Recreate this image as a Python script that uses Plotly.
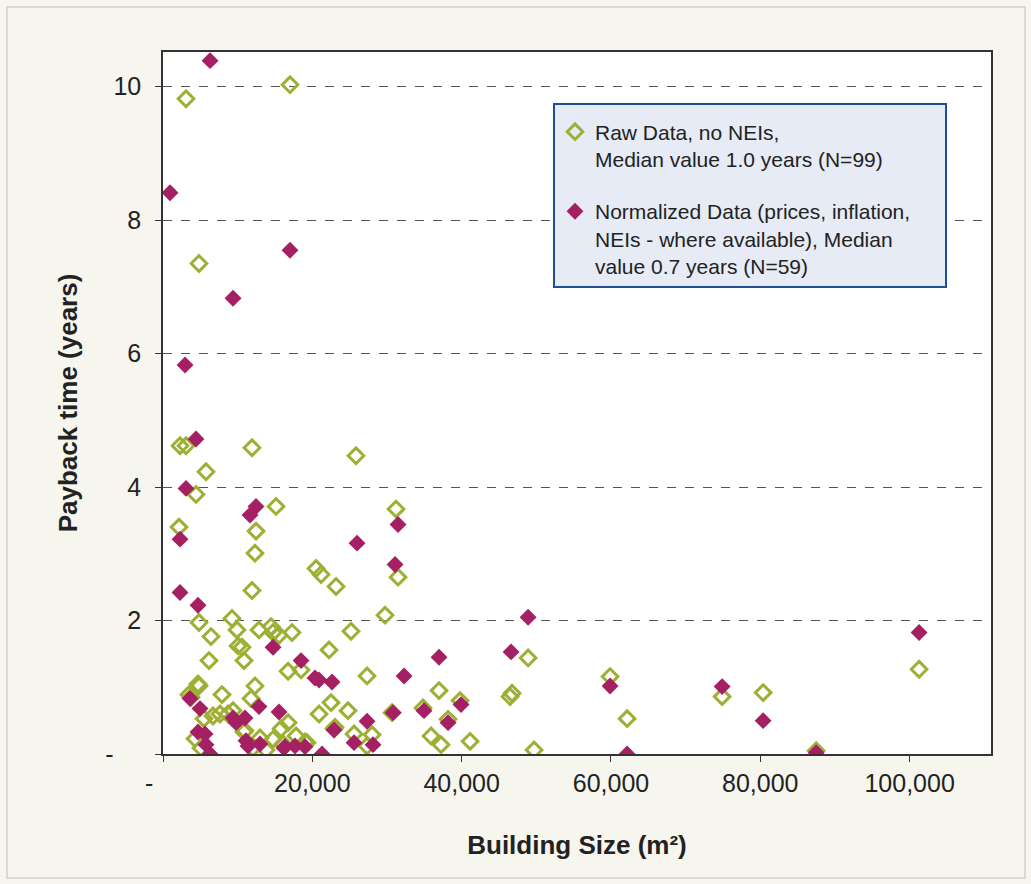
import plotly.graph_objects as go

# Raw data, no NEIs (building size m2, payback years)
raw_size = [3080, 17010, 4820, 2280, 3080, 5760, 4420, 11920, 25850, 2140,
            15140, 12460, 31210, 12320, 20500, 21170, 23180, 11920, 31480, 29740,
            4820, 6430, 6160, 9240, 9910, 10050, 10580, 10850, 12860, 14470,
            14740, 15540, 17280, 16750, 18490, 22240, 25180, 27330, 36970, 46750,
            46480, 48900, 49700, 4690, 4820, 3480, 7900, 9380, 12320, 11790,
            5490, 6700, 7640, 4290, 5090, 10850, 12060, 12990, 13800, 14740,
            15810, 16750, 17820, 19020, 20900, 22500, 23040, 24780, 25590, 28000,
            27330, 30680, 34830, 35900, 37240, 38180, 39790, 41130, 59880, 62160,
            74890, 80380, 101270, 87480, 16080, 19290, 10980, 3750, 22910, 8700]
raw_payback = [9.82, 10.03, 7.35, 4.62, 4.62, 4.23, 3.89, 4.59, 4.47, 3.40,
               3.71, 3.34, 3.67, 3.01, 2.78, 2.69, 2.51, 2.45, 2.65, 2.08,
               1.97, 1.76, 1.40, 2.03, 1.86, 1.62, 1.60, 1.40, 1.86, 1.91,
               1.82, 1.78, 1.82, 1.24, 1.26, 1.56, 1.84, 1.17, 0.95, 0.91,
               0.86, 1.44, 0.06, 1.05, 1.02, 0.89, 0.89, 0.65, 1.02, 0.83,
               0.53, 0.57, 0.60, 0.23, 0.09, 0.33, 0.09, 0.24, 0.06, 0.22,
               0.38, 0.47, 0.27, 0.18, 0.60, 0.77, 0.40, 0.65, 0.30, 0.29,
               0.12, 0.62, 0.69, 0.27, 0.14, 0.52, 0.80, 0.19, 1.16, 0.53,
               0.86, 0.92, 1.27, 0.05, 0.15, 0.17, 0.35, 0.85, 0.38, 0.60]

# Normalized data (prices, inflation, NEIs)
norm_size = [6300, 940, 17010, 9380, 2950, 4420, 3080, 2280, 2280, 12460,
             11650, 4690, 25990, 31480, 31080, 48900, 46620, 36970, 32290, 30810,
             34960, 39920, 38180, 59880, 62160, 74890, 80380, 87480, 101270, 14740,
             18490, 20360, 20900, 22640, 15540, 22910, 27330, 25590, 28130, 21300,
             16340, 17680, 19020, 3620, 4960, 12860, 9380, 9780, 10980, 4690,
             5630, 5760, 6300, 11120, 11390, 12990, 16200]
norm_payback = [10.39, 8.41, 7.55, 6.83, 5.83, 4.72, 3.98, 3.22, 2.42, 3.71,
                3.58, 2.23, 3.16, 3.44, 2.84, 2.05, 1.53, 1.45, 1.17, 0.62,
                0.65, 0.74, 0.47, 1.02, 0.00, 1.01, 0.50, 0.02, 1.82, 1.60,
                1.40, 1.14, 1.11, 1.08, 0.63, 0.36, 0.49, 0.17, 0.14, 0.00,
                0.11, 0.12, 0.11, 0.83, 0.68, 0.71, 0.54, 0.47, 0.54, 0.33,
                0.30, 0.14, 0.00, 0.20, 0.12, 0.15, 0.09]

x_ticks = [0, 20000, 40000, 60000, 80000, 100000]
x_ticktext = ["-\u00a0\u00a0\u00a0\u00a0", "20,000", "40,000", "60,000", "80,000", "100,000"]
y_ticks = [0, 2, 4, 6, 8, 10]
y_ticktext = ["-\u00a0\u00a0\u00a0\u00a0", "2", "4", "6", "8", "10"]

GREEN = "#9eb033"
MAGENTA = "#a51f63"
FONT = "Liberation Sans, Arial, sans-serif"
PAD = "\u00a0" * 5

fig = go.Figure()
fig.add_trace(go.Scatter(
    x=raw_size, y=raw_payback, mode="markers",
    name="Raw Data, no NEIs,<br>Median value 1.0 years (N=99)",
    legendgroup="raw",
    marker=dict(symbol="diamond-open", size=12, color=GREEN,
                line=dict(width=3, color=GREEN)),
))
fig.add_trace(go.Scatter(
    x=norm_size, y=norm_payback, mode="markers",
    name="Normalized Data (prices, inflation," + PAD + "<br>NEIs - where available), Median<br>value 0.7 years (N=59)",
    legendgroup="norm",
    marker=dict(symbol="diamond", size=13, color=MAGENTA, line=dict(width=0)),
))

fig.update_layout(
    width=1031, height=884,
    margin=dict(l=163, r=40, t=52, b=130),
    paper_bgcolor="#f6f6ef",
    plot_bgcolor="#ffffff",
    font=dict(family=FONT, color="#222222"),
    showlegend=True,
    legend=dict(
        x=(553 - 163) / 828, y=(754 - 103) / 702, xanchor="left", yanchor="top",
        bgcolor="#e6ebf6", bordercolor="#1f4e96", borderwidth=2,
        font=dict(size=21, family=FONT, color="#222222"),
        valign="top", tracegroupgap=22, traceorder="grouped",
        itemsizing="trace",
        title=dict(text="\u00a0", font=dict(size=5)),
    ),
    xaxis=dict(
        range=[0, 110900], tickmode="array", tickvals=x_ticks, ticktext=x_ticktext,
        showgrid=False, zeroline=False, showline=True, linecolor="#333333", linewidth=1.5,
        mirror=True, ticks="outside", ticklen=6, tickcolor="#333333",
        tickfont=dict(size=25, family=FONT, color="#222222"),
        title=dict(text="<b>Building Size (m²)</b>", font=dict(size=26, family=FONT, color="#222222"),
                   standoff=40),
    ),
    yaxis=dict(
        range=[0, 10.52], tickmode="array", tickvals=y_ticks, ticktext=y_ticktext,
        showgrid=True, gridcolor="#555555", griddash="dash", gridwidth=1,
        zeroline=False, showline=True, linecolor="#333333", linewidth=1.5,
        mirror=True, ticks="outside", ticklen=6, tickcolor="#333333",
        ticklabelstandoff=9,
        tickfont=dict(size=25, family=FONT, color="#222222"),
        title=dict(text="<b>Payback time (years)</b>", font=dict(size=26, family=FONT, color="#222222"),
                   standoff=20),
    ),
)

# outer light frame
fig.add_shape(type="rect", xref="paper", yref="paper",
              x0=(7 - 163) / 828, x1=(1025 - 163) / 828,
              y0=(754 - 878) / 702, y1=(754 - 7) / 702,
              line=dict(color="#d2d2ca", width=1.5), fillcolor="rgba(0,0,0,0)", layer="below")

fig.write_html(
    "out.html",
    config={"displayModeBar": False},
    post_script="document.body.style.margin='0';document.body.style.background='#f6f6ef';",
)
